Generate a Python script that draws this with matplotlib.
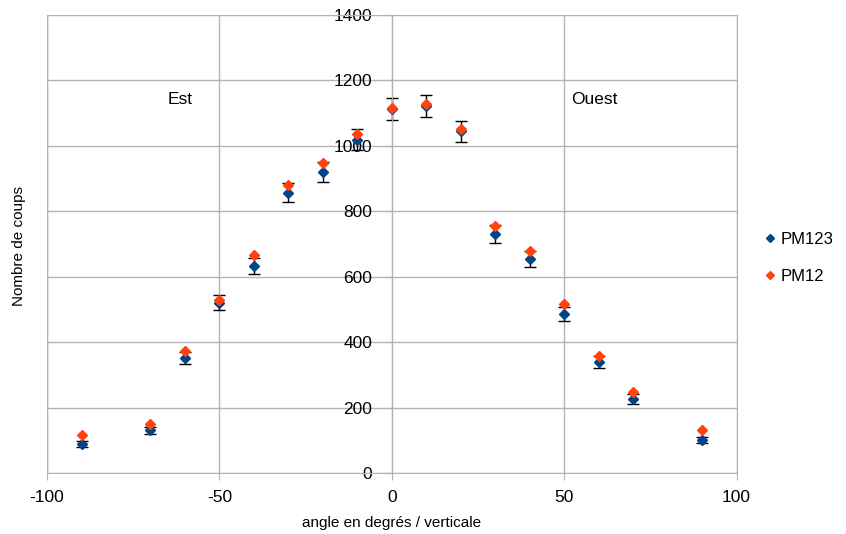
import matplotlib
matplotlib.use('Agg')
from matplotlib import pyplot as plt

plt.rcParams['font.family'] = ['Liberation Sans', 'DejaVu Sans']
plt.rcParams['axes.unicode_minus'] = False

# angles (degres / verticale)
angles = [-90, -70, -60, -50, -40, -30, -20, -10, 0, 10, 20, 30, 40, 50, 60, 70, 90]

# counts
pm123 = [89, 131, 352, 520, 633, 856, 920, 1018, 1113, 1122, 1045, 731, 654, 486, 339, 226, 101]
pm123_err = [10, 11, 19, 23, 25, 29, 30, 32, 33, 33, 32, 27, 25, 22, 18, 15, 10]
pm12 = [116, 150, 373, 529, 667, 880, 948, 1037, 1116, 1128, 1052, 755, 679, 517, 358, 248, 131]

blue = '#004586'
orange = '#ff420e'

fig = plt.figure(figsize=(8.46, 5.34), dpi=100)
ax = fig.add_axes([0.0556, 0.114, 0.815, 0.858])

ax.errorbar(angles, pm123, yerr=pm123_err, fmt='none', ecolor='black', elinewidth=1,
            capsize=4, capthick=1, zorder=2)
ax.plot(angles, pm123, 'D', color=blue, markersize=5.5, label='PM123', zorder=3)
ax.plot(angles, pm12, 'D', color=orange, markersize=5.5, label='PM12', zorder=4)

ax.set_xlim(-100, 100)
ax.set_ylim(0, 1400)
ax.set_xticks([-100, -50, 0, 50, 100])
ax.set_yticks(range(0, 1401, 200))
ax.grid(True, color='#b3b3b3', linewidth=1)
ax.set_axisbelow(True)

for s in ['top', 'right']:
    ax.spines[s].set_color('#b3b3b3')
ax.spines['left'].set_position(('data', 0))
ax.spines['left'].set_color('#b3b3b3')
ax.spines['bottom'].set_color('#b3b3b3')
ax.tick_params(axis='both', colors='#b3b3b3', labelcolor='black', labelsize=12.5, length=5)
ax.tick_params(axis='y', pad=9)
ax.tick_params(axis='x', pad=7)

# left border of the plot area
ax.axvline(-100, color='#b3b3b3', linewidth=1)

ax.text(-65, 1128, 'Est', fontsize=12.5)
ax.text(52, 1128, 'Ouest', fontsize=12.5)

ax.set_xlabel('angle en degrés / verticale', fontsize=11, labelpad=8)
fig.text(0.022, 0.54, 'Nombre de coups', rotation=90, fontsize=11, va='center', ha='center')

ax.legend(loc='center left', bbox_to_anchor=(1.015, 0.47), frameon=False, fontsize=12,
          handletextpad=0.1, handlelength=1, markerscale=0.8, labelspacing=1.3)

fig.savefig('out.png', dpi=100)
